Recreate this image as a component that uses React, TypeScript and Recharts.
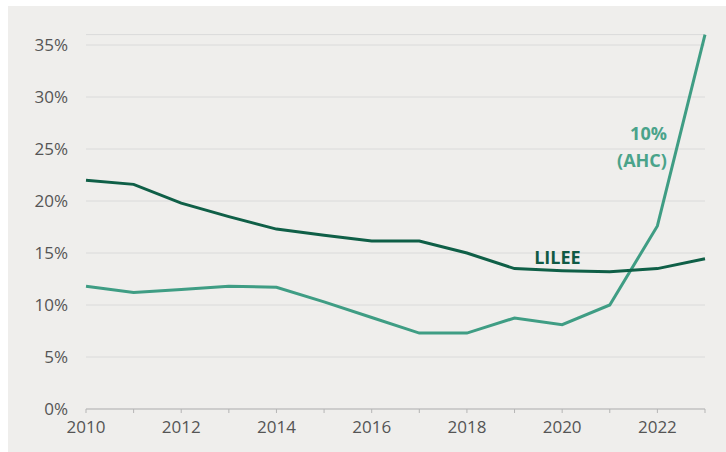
import React from 'react';
import { LineChart, Line, XAxis, YAxis, CartesianGrid, ReferenceDot } from 'recharts';

const years = [2010, 2011, 2012, 2013, 2014, 2015, 2016, 2017, 2018, 2019, 2020, 2021, 2022, 2023];
const lilee = [22.0, 21.6, 19.8, 18.5, 17.3, 16.7, 16.15, 16.15, 15.0, 13.5, 13.3, 13.2, 13.5, 14.45];
const ahc = [11.8, 11.2, 11.5, 11.8, 11.7, 10.3, 8.8, 7.3, 7.3, 8.75, 8.1, 10.0, 17.6, 36.0];
const yTicks = [0, 5, 10, 15, 20, 25, 30, 35];
const liLeeLabel = { x: 2019.9, y: 14.6, text: 'LILEE' };
const ahcLabel = { x: 2022.2, y: 25.2, lines: ['10%', '(AHC)'] };

const data = years.map((y, i) => ({ year: y, lilee: lilee[i], ahc: ahc[i] }));

const DARK = '#0f5f47';
const LIGHT = '#3f9d84';

const AhcLabel = (props: any) => {
  const vb = props.viewBox || {};
  const x = (vb.x ?? 0) + (vb.width ?? 0) / 2;
  const y = (vb.y ?? 0) + (vb.height ?? 0) / 2;
  return (
    <text x={x} y={y} textAnchor="end" fill="#4aa38a" fontFamily="'Open Sans', sans-serif" fontWeight={700} fontSize={18}>
      <tspan x={x} dy={-13.5} dominantBaseline="central">{ahcLabel.lines[0]}</tspan>
      <tspan x={x} dy={27} dominantBaseline="central">{ahcLabel.lines[1]}</tspan>
    </text>
  );
};

const LileeLabel = (props: any) => {
  const vb = props.viewBox || {};
  const x = (vb.x ?? 0) + (vb.width ?? 0) / 2;
  const y = (vb.y ?? 0) + (vb.height ?? 0) / 2;
  return (
    <text x={x} y={y} textAnchor="middle" dominantBaseline="central" fill="#0f5a44" fontFamily="'Open Sans', sans-serif" fontWeight={700} fontSize={18}>
      {liLeeLabel.text}
    </text>
  );
};

export default function App() {
  return (
    <div style={{ position: 'relative', width: 726, height: 452, background: '#ffffff', overflow: 'hidden' }}>
      <style>{`body{margin:0;overflow:hidden}`}</style>
      <div style={{ position: 'absolute', left: 8, top: 6, width: 718, height: 446, background: '#efeeec' }}>
        <LineChart width={718} height={446} data={data} margin={{ top: 28.6, right: 21, bottom: 13, left: 0 }}>
          <CartesianGrid vertical={false} stroke="#dadada" strokeWidth={1} />
          <XAxis
            dataKey="year"
            type="number"
            domain={[2010, 2023]}
            ticks={years}
            interval={0}
            tickFormatter={(v: number) => (v % 2 === 0 ? String(v) : '')}
            height={30}
            tickSize={4}
            tickMargin={8}
            stroke="#b5b5b5"
            tick={{ fill: '#555555', fontSize: 17, fontFamily: "'Open Sans', sans-serif" }}
          />
          <YAxis
            type="number"
            domain={[0, 36]}
            ticks={yTicks}
            interval={0}
            width={78}
            axisLine={false}
            tickLine={false}
            tickMargin={12}
            tickFormatter={(v: number) => `${v}%`}
            tick={{ fill: '#555555', fontSize: 17, fontFamily: "'Open Sans', sans-serif" }}
          />
          <Line type="linear" dataKey="ahc" stroke={LIGHT} strokeWidth={3} dot={false} isAnimationActive={false} />
          <Line type="linear" dataKey="lilee" stroke={DARK} strokeWidth={3} dot={false} isAnimationActive={false} />
          <ReferenceDot x={liLeeLabel.x} y={liLeeLabel.y} r={0} fill="none" stroke="none" label={<LileeLabel />} />
          <ReferenceDot x={ahcLabel.x} y={ahcLabel.y} r={0} fill="none" stroke="none" label={<AhcLabel />} />
        </LineChart>
      </div>
    </div>
  );
}
